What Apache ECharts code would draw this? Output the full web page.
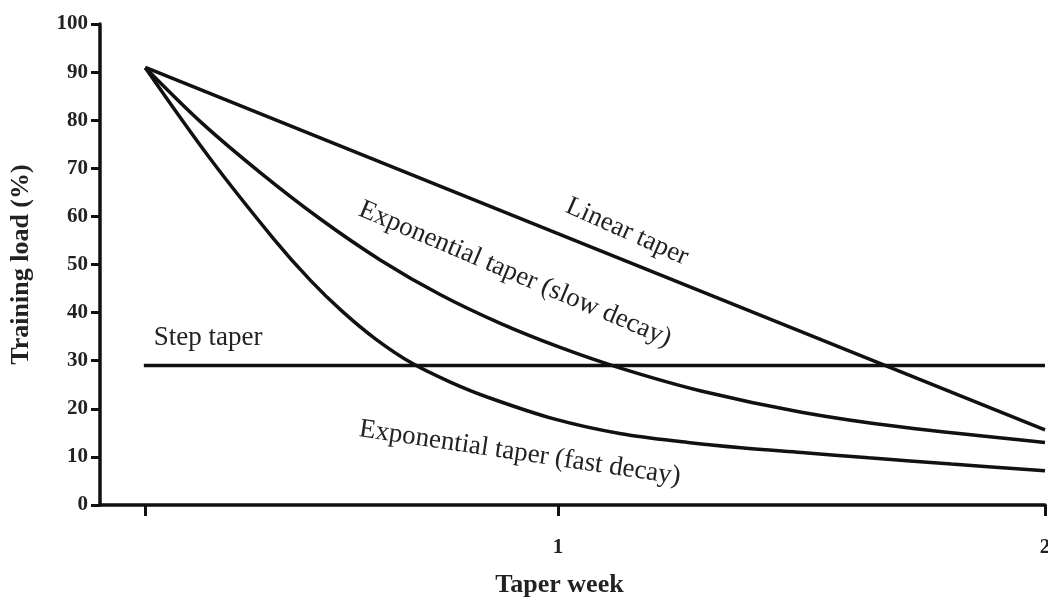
<!DOCTYPE html>
<html>
<head>
<meta charset="utf-8">
<title>Taper types</title>
<script src="https://cdn.jsdelivr.net/npm/echarts@6/dist/echarts.min.js"></script>
<style>
    html, body { margin: 0; padding: 0; background: #fff; }
    #chart { width: 1048px; height: 598px; }
</style>
</head>
<body>
<div id="chart"></div>
<script>
// x = taper week, y = training load (%)
var weekTicks = [0.153, 1, 2];          // first tick = start of taper, no label
var weekLabels = ['', '1', '2'];

var linearWeek = [0.153, 2];
var linearLoad = [91, 15.6];

var stepWeek = [0.15, 2];
var stepLoad = [29, 29];

var slowWeek = [0.153, 0.266, 0.389, 0.513, 0.636, 0.759, 0.883, 1.006, 1.130, 1.294, 1.500, 1.706, 2.0];
var slowLoad = [90.9, 79.7, 69.1, 59.4, 50.9, 43.7, 37.7, 32.7, 28.4, 23.7, 19.3, 16.2, 13.0];

var fastWeek = [0.153, 0.284, 0.416, 0.492, 0.558, 0.626, 0.700, 0.778, 0.856, 0.992, 1.130, 1.267, 1.376, 1.500, 1.638, 1.808, 2.0];
var fastLoad = [90.9, 72.3, 55.4, 46.7, 40.2, 34.5, 29.5, 25.6, 22.4, 17.9, 14.8, 13.0, 11.9, 10.9, 9.8, 8.5, 7.1];

function pairs(xs, ys) {
    var out = [];
    for (var i = 0; i < xs.length; i++) {
        out.push([xs[i], ys[i]]);
    }
    return out;
}

var serif = '"Liberation Serif", "Times New Roman", serif';

// rotated text placed next to each curve
function note(text, coord, angle) {
    return {
        silent: true,
        symbol: 'circle',
        symbolSize: 0,
        itemStyle: { color: 'rgba(0,0,0,0)' },
        label: {
            show: true,
            position: 'inside',
            formatter: text,
            rotate: angle,
            fontFamily: serif,
            fontSize: 27,
            color: '#222'
        },
        data: [{ coord: coord }]
    };
}

function curve(name, xs, ys, smooth, mark) {
    return {
        type: 'line',
        name: name,
        data: pairs(xs, ys),
        symbol: 'none',
        smooth: smooth,
        lineStyle: { color: '#111', width: 3.5 },
        markPoint: mark
    };
}

var myChart = echarts.init(document.getElementById('chart'));

var option = {
    animation: false,
    backgroundColor: '#fff',
    grid: { left: 100, right: 3, top: 24, bottom: 93, containLabel: false, outerBoundsMode: 'none' },
    xAxis: {
        type: 'value',
        min: 0.06,
        max: 2,
        name: 'Taper week',
        nameLocation: 'middle',
        nameGap: 67,
        nameTextStyle: { fontFamily: serif, fontSize: 26, fontWeight: 'bold', color: '#222', padding: [0, 26, 0, 0] },
        axisLine: { onZero: false, lineStyle: { color: '#111', width: 3.5 } },
        axisTick: { show: true, customValues: weekTicks, length: 11, lineStyle: { color: '#111', width: 3 } },
        axisLabel: {
            customValues: weekTicks,
            margin: 32,
            fontFamily: serif,
            fontSize: 21,
            fontWeight: 'bold',
            color: '#222',
            formatter: function (v) {
                var i = weekTicks.indexOf(v);
                return i >= 0 ? weekLabels[i] : '';
            }
        },
        splitLine: { show: false }
    },
    yAxis: {
        type: 'value',
        min: 0,
        max: 100,
        interval: 10,
        name: 'Training load (%)',
        nameLocation: 'middle',
        nameGap: 66,
        nameTextStyle: { fontFamily: serif, fontSize: 26, fontWeight: 'bold', color: '#222' },
        axisLine: { show: true, lineStyle: { color: '#111', width: 3.5 } },
        axisTick: { show: true, length: 9, lineStyle: { color: '#111', width: 3 } },
        axisLabel: { margin: 12, fontFamily: serif, fontSize: 21, fontWeight: 'bold', color: '#222' },
        splitLine: { show: false }
    },
    series: [
        curve('Linear taper', linearWeek, linearLoad, false, note('Linear taper', [1.142, 56.8], -24)),
        curve('Step taper', stepWeek, stepLoad, false, note('Step taper', [0.282, 34.7], 0)),
        curve('Exponential taper (slow decay)', slowWeek, slowLoad, 0.3, note('Exponential taper (slow decay)', [0.912, 48.0], -23)),
        curve('Exponential taper (fast decay)', fastWeek, fastLoad, 0.35, note('Exponential taper (fast decay)', [0.922, 10.8], -8.5))
    ]
};

myChart.setOption(option, true);
</script>
</body>
</html>
